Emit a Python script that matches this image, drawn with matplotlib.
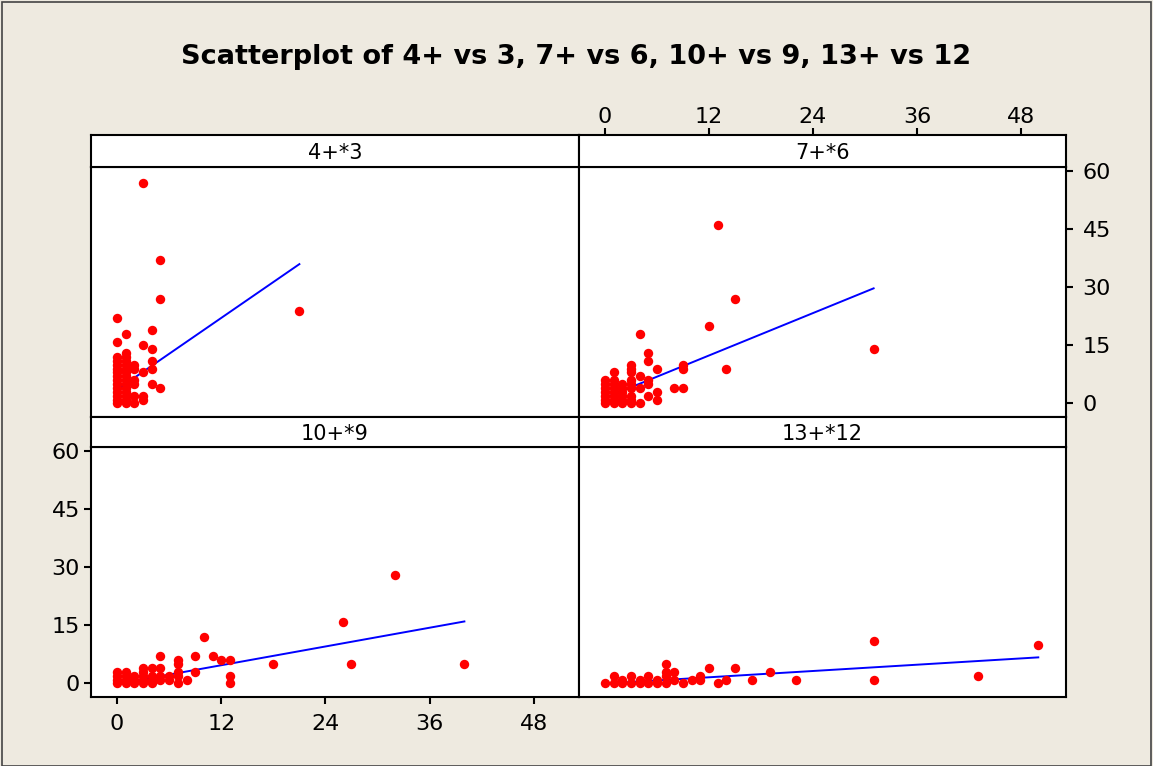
#!/usr/bin/env python3
import numpy as np
import matplotlib as mpl
mpl.use('Agg')
import matplotlib.pyplot as plt
from matplotlib.patches import Rectangle

# panel 4+*3
x1 = [0]*13 + [1]*14 + [1, 0, 0, 2, 2, 2, 2, 2, 2, 3, 3, 3, 3, 4, 4, 4, 4, 4, 5, 5, 5, 3, 21]
y1 = list(range(13)) + list(range(14)) + [18, 22, 16, 10, 9, 6, 5, 2, 0, 15, 8, 2, 1, 19, 14, 11, 9, 5, 37, 27, 4, 57, 24]

# panel 7+*6
x2 = [0]*7 + [1]*7 + [1] + [2]*6 + [3]*9 + [4, 4, 4, 4, 5, 5, 5, 5, 5, 6, 6, 6, 8, 9, 9, 9, 12, 13, 14, 15, 31]
y2 = list(range(7)) + list(range(7)) + [8] + list(range(6)) + [10, 9, 8, 6, 5, 4, 2, 1, 0] + \
     [18, 7, 4, 0, 13, 11, 6, 5, 2, 9, 3, 1, 4, 10, 9, 4, 20, 46, 9, 27, 14]

# panel 10+*9
x3 = [0]*4 + [1]*4 + [2]*3 + [3]*5 + [4]*4 + [5, 5, 5, 5, 6, 6, 7, 7, 7, 7, 7, 8, 9, 9, 10, 11, 12, 13, 13, 13, 18, 26, 27, 32, 40]
y3 = [0, 1, 2, 3] * 2 + [0, 1, 2] + [0, 1, 2, 3, 4] + [0, 1, 2, 4] + \
     [7, 4, 2, 1, 2, 1, 6, 5, 3, 2, 0, 1, 7, 3, 12, 7, 6, 6, 2, 0, 5, 16, 5, 28, 5]

# panel 13+*12
x4 = [0, 1, 1, 2, 2, 3, 3, 4, 4, 5, 5, 6, 6, 7, 7, 7, 7, 8, 8, 9, 10, 11, 11, 12, 13, 14, 15, 17, 19, 22, 31, 31, 43, 50]
y4 = [0, 2, 0, 1, 0, 2, 0, 1, 0, 2, 0, 1, 0, 5, 3, 2, 0, 3, 1, 0, 1, 2, 1, 4, 0, 1, 4, 1, 3, 1, 11, 1, 2, 10]

# fitted lines (intercept, slope)
fits = [(3.56, 1.545), (1.44, 0.913), (-0.14, 0.404), (-0.03, 0.1354)]
labels = ['4+*3', '7+*6', '10+*9', '13+*12']
xticks = [0, 12, 24, 36, 48]
yticks = [0, 15, 30, 45, 60]

W, H = 1153, 766
bg = '#EEEAE0'
fig = plt.figure(figsize=(W/100, H/100), dpi=100, facecolor=bg)
fig.patches.append(Rectangle((2/W, 0), (W-4)/W, (H-2)/H, transform=fig.transFigure,
                             fill=False, edgecolor='#444444', lw=1.2))

fig.text(0.5, 1-57/H, 'Scatterplot of 4+ vs 3, 7+ vs 6, 10+ vs 9, 13+ vs 12',
         ha='center', va='center', fontsize=19.5, fontweight='bold')

lefts = [91/W, 579/W, 91/W, 579/W]
widths = [488/W, 487/W, 488/W, 487/W]
pb = [(H-417)/H, (H-417)/H, (H-697)/H, (H-697)/H]
sb = [(H-167)/H, (H-167)/H, (H-447)/H, (H-447)/H]
sh = [32/H, 32/H, 30/H, 30/H]
ph = 250/H

xs = [x1, x2, x3, x4]
ys = [y1, y2, y3, y4]
lw = 1.5

for i in range(4):
    ax = fig.add_axes([lefts[i], pb[i], widths[i], ph])
    ax.set_facecolor('white')
    ax.scatter(xs[i], ys[i], s=46, color='#FF0000', zorder=3, linewidths=0)
    xx = np.array([min(xs[i]), max(xs[i])])
    ax.plot(xx, fits[i][0] + fits[i][1]*xx, color='#0000FF', lw=1.4, zorder=2)
    ax.set_xlim(-3, 53.2)
    ax.set_ylim(-3.5, 61.1)
    for s in ax.spines.values():
        s.set_linewidth(lw)
    ax.tick_params(direction='out', length=5, width=lw, labelsize=16)

    st = fig.add_axes([lefts[i], sb[i], widths[i], sh[i]])
    st.set_facecolor('white')
    st.set_xlim(-3, 53.2)
    st.set_yticks([])
    for s in st.spines.values():
        s.set_linewidth(lw)
    st.text(0.5, 0.45, labels[i], transform=st.transAxes, ha='center', va='center', fontsize=15)

    if i == 1:
        st.set_xticks(xticks)
        st.xaxis.tick_top()
        st.tick_params(direction='out', length=5, width=lw, labelsize=16, pad=1)
        ax.set_xticks([])
        ax.set_yticks(yticks)
        ax.yaxis.tick_right()
        ax.tick_params(axis='y', pad=7)
    elif i == 2:
        st.set_xticks([])
        ax.set_xticks(xticks)
        ax.set_yticks(yticks)
        ax.tick_params(axis='x', pad=7)
        ax.tick_params(axis='y', pad=3)
    else:
        st.set_xticks([])
        ax.set_xticks([])
        ax.set_yticks([])

plt.savefig('out.png', dpi=100, facecolor=bg)
